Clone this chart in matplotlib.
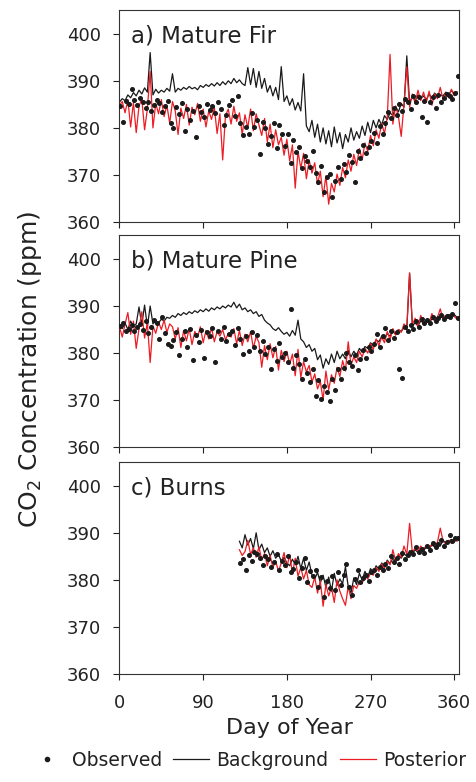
import numpy as np
import matplotlib
matplotlib.use("Agg")
import matplotlib.pyplot as plt
from matplotlib.lines import Line2D

plt.rcParams['font.family'] = ['DejaVu Sans']
plt.rcParams['mathtext.default'] = 'regular'

# dias (cada 3 dias) para las lineas y los puntos observados
dias = list(range(0, 364, 3))
dias_obs = list(range(1, 365, 3))
dias_c = list(range(129, 364, 3))
dias_c_obs = list(range(130, 365, 3))

# a) Mature Fir
fir_fondo = [
    385.5, 386.2, 385.8, 387.0, 386.4, 387.5, 386.8, 388.0, 387.2, 388.5,
    387.6, 396.0, 387.0, 388.2, 387.4, 388.0, 387.6, 388.4, 387.8, 391.5,
    387.6, 388.4, 388.0, 388.6, 388.2, 388.8, 388.3, 388.6, 388.1, 389.0,
    388.6, 389.2, 388.8, 389.4, 388.9, 389.6, 389.0, 389.8, 389.2, 390.0,
    389.4, 390.5, 389.6, 390.2, 389.4, 389.0, 392.8, 389.2, 392.6, 388.6,
    392.0, 388.4, 390.5, 387.6, 389.0, 386.8, 388.6, 386.0, 393.0, 385.6,
    386.8, 384.8, 386.2, 383.8, 385.4, 383.6, 391.5, 380.4, 379.2, 381.6,
    378.0, 380.8, 377.0, 380.0, 376.6, 379.4, 376.0, 380.2, 376.8, 379.0,
    375.6, 378.6, 377.0, 380.0, 377.4, 379.2, 377.8, 380.4, 378.4, 381.2,
    379.0, 381.6, 380.0, 381.8, 380.6, 382.6, 381.8, 383.2, 382.6, 384.6,
    383.4, 385.2, 384.4, 395.3, 385.4, 386.6, 385.8, 387.0, 386.2, 386.8,
    386.0, 387.2, 386.4, 387.4, 386.6, 387.0, 386.8, 387.6, 387.0, 388.0,
    387.2, 387.6]
fir_post = [
    384.8, 385.6, 383.2, 386.0, 380.2, 385.4, 379.0, 384.6, 386.2, 379.6,
    384.0, 392.0, 380.0, 385.2, 383.0, 386.0, 382.4, 384.8, 381.0, 385.6,
    383.6, 378.6, 384.2, 382.0, 385.0, 380.6, 384.4, 382.8, 385.2, 381.4,
    384.0, 380.2, 383.6, 381.8, 384.4, 378.8, 383.0, 373.2, 382.6, 384.0,
    380.8, 384.6, 381.4, 383.2, 378.6, 382.8, 380.0, 384.0, 379.4, 383.0,
    380.6, 378.4, 382.0, 377.0, 380.8, 375.8, 379.6, 376.4, 378.0, 374.2,
    377.6, 373.0, 376.4, 367.2, 375.0, 371.4, 374.6, 369.2, 373.2, 370.4,
    372.6, 368.0, 370.8, 365.4, 369.8, 363.8, 368.2, 366.4, 370.2, 367.8,
    371.6, 369.4, 373.2, 370.8, 374.4, 372.0, 375.6, 373.2, 376.8, 375.0,
    378.4, 376.2, 379.6, 377.8, 381.0, 378.8, 382.2, 395.6, 380.8, 384.6,
    382.4, 378.2, 385.0, 393.0, 384.4, 387.2, 385.2, 388.0, 385.8, 387.6,
    385.4, 387.8, 384.8, 387.2, 386.2, 388.6, 386.0, 387.4, 386.4, 388.2,
    386.8, 387.6]
fir_obs = [
    384.6, 381.2, 385.8, 385.0, 388.2, 386.0, 384.8, 386.4, 385.6, 384.2,
    385.4, 383.6, 384.8, 386.0, 385.2, 383.4, 384.6, 385.8, 381.0, 380.0,
    384.4, 383.0, 385.2, 379.4, 384.0, 381.6, 383.6, 378.0, 384.6, 383.4,
    382.4, 385.0, 383.8, 384.6, 383.2, 385.6, 384.0, 380.6, 382.8, 384.8,
    386.0, 382.6, 386.8, 381.0, 378.4, 380.2, 378.6, 383.2, 380.2, 381.6,
    374.4, 381.2, 380.0, 376.6, 378.2, 381.0, 375.8, 380.6, 378.8, 376.2,
    378.6, 372.6, 377.4, 374.8, 376.0, 371.4, 374.0, 373.0, 371.8, 375.2,
    370.4, 368.6, 372.0, 366.4, 369.6, 370.2, 365.4, 368.8, 371.6, 369.2,
    372.4, 370.6, 374.2, 372.8, 368.6, 375.0, 373.6, 376.4, 374.6, 376.0,
    377.2, 379.0, 376.8, 380.4, 378.6, 381.0, 383.4, 382.0, 384.2, 382.8,
    385.0, 383.6, 386.2, 385.4, 384.0, 386.8, 385.6, 386.6, 382.4, 385.8,
    381.2, 385.4, 386.6, 384.2, 387.0, 385.6, 386.4, 387.2, 386.8, 386.2,
    387.4, 391.0]

# b) Mature Pine
pine_fondo = [
    386.0, 385.2, 386.4, 385.0, 386.8, 385.6, 386.2, 389.8, 386.0, 390.2,
    385.6, 390.0, 386.2, 386.8, 386.4, 387.2, 386.8, 387.6, 387.4, 388.0,
    387.6, 388.4, 388.0, 388.6, 388.2, 388.8, 388.4, 389.0, 388.6, 389.2,
    388.8, 389.4, 388.9, 389.6, 389.2, 389.8, 389.4, 390.0, 389.6, 390.2,
    389.8, 390.8, 389.6, 390.4, 389.2, 389.6, 388.8, 389.2, 388.4, 388.8,
    387.8, 388.2, 387.0, 386.4, 386.0, 385.2, 384.8, 385.4, 384.6, 384.0,
    384.4, 383.6, 384.8, 383.8, 387.0, 383.0, 382.4, 381.2, 381.8, 380.4,
    381.0, 378.6, 379.6, 376.8, 378.8, 377.6, 379.8, 378.0, 380.4, 378.8,
    379.8, 378.8, 380.6, 379.2, 380.4, 379.6, 381.0, 380.2, 381.4, 381.0,
    382.2, 381.6, 382.8, 382.4, 383.6, 383.0, 384.2, 383.6, 384.6, 384.0,
    385.0, 384.6, 385.4, 385.0, 397.0, 385.8, 386.4, 385.8, 386.8, 386.4,
    386.8, 386.6, 387.2, 387.0, 387.6, 387.4, 388.0, 387.6, 388.2, 388.0,
    388.2, 387.6]
pine_post = [
    385.6, 383.4, 386.2, 388.6, 384.0, 386.8, 381.0, 385.2, 388.8, 383.2,
    386.4, 378.0, 385.8, 384.2, 386.6, 385.0, 387.0, 384.4, 386.2, 385.6,
    383.0, 385.4, 381.2, 384.8, 382.6, 385.2, 381.8, 384.6, 383.4, 385.6,
    382.2, 384.8, 383.0, 385.4, 382.4, 384.6, 383.6, 385.0, 382.8, 384.2,
    383.4, 385.2, 382.0, 384.8, 381.6, 384.0, 382.4, 384.6, 381.0, 383.6,
    382.2, 377.0, 381.6, 378.6, 382.0, 379.0, 381.4, 376.4, 380.6, 378.2,
    380.4, 377.6, 379.8, 375.2, 380.8, 374.8, 378.2, 376.0, 377.4, 373.8,
    375.6, 372.4, 374.0, 370.0, 376.2, 372.2, 375.4, 373.6, 377.0, 375.0,
    378.4, 376.2, 382.4, 377.4, 379.2, 378.0, 380.4, 379.2, 381.0, 380.0,
    382.0, 380.8, 383.0, 381.6, 383.4, 382.2, 384.6, 382.8, 385.2, 383.8,
    385.0, 384.4, 386.2, 385.4, 397.0, 386.0, 387.4, 385.6, 388.0, 386.2,
    387.0, 386.4, 388.4, 386.8, 387.6, 389.4, 387.2, 388.0, 387.4, 388.4,
    387.8, 387.2]
pine_obs = [
    385.8, 386.4, 384.6, 385.2, 386.0, 384.8, 385.6, 386.2, 385.0, 386.8,
    384.2, 385.6, 387.0, 386.4, 383.0, 387.6, 384.2, 382.0, 381.6, 382.8,
    384.4, 379.6, 383.0, 384.6, 381.4, 385.2, 378.6, 383.8, 382.4, 385.0,
    379.0, 384.4, 383.6, 385.4, 378.2, 384.8, 383.0, 385.6, 382.6, 384.0,
    384.8, 381.8, 385.4, 383.0, 379.8, 383.6, 380.4, 384.4, 381.2, 383.8,
    380.4, 382.6, 379.8, 381.4, 376.6, 380.8, 378.4, 382.2, 379.2, 380.0,
    378.2, 389.4, 376.8, 379.6, 377.6, 374.6, 378.8, 375.8, 373.8, 376.6,
    371.0, 374.2, 370.2, 373.0, 371.8, 369.8, 374.4, 372.2, 376.6, 374.6,
    376.8, 380.0, 378.2, 377.2, 379.6, 376.4, 378.8, 380.6, 379.0, 381.2,
    380.4, 382.0, 384.0, 381.4, 383.6, 385.4, 382.8, 384.8, 383.2, 384.4,
    376.6, 374.8, 385.6, 384.8, 386.0, 385.2, 386.8, 385.6, 387.2, 386.4,
    387.0, 386.4, 387.6, 386.8, 387.4, 388.0, 387.2, 387.8, 387.6, 388.2,
    390.6, 387.4]

# c) Burns (desde el dia 129)
burns_fondo = [
    388.2, 386.8, 389.6, 387.4, 388.8, 386.6, 390.0, 386.4, 387.6, 385.8,
    386.8, 385.0, 386.2, 384.6, 385.4, 384.0, 384.8, 383.6, 383.0, 384.4,
    383.2, 385.0, 382.4, 384.6, 382.0, 383.8, 381.0, 380.2, 381.6, 379.4,
    381.0, 378.4, 380.6, 377.6, 381.4, 378.8, 380.2, 379.2, 382.8, 378.6,
    377.2, 380.4, 379.0, 381.4, 380.0, 381.8, 380.6, 382.4, 381.6, 383.0,
    382.2, 383.6, 382.8, 384.2, 383.4, 384.6, 384.0, 385.2, 384.6, 385.6,
    385.0, 386.2, 385.6, 386.4, 385.8, 386.8, 386.2, 387.0, 386.6, 387.4,
    387.0, 387.6, 387.2, 388.4, 387.8, 388.2, 388.6, 388.0, 388.8]
burns_post = [
    386.4, 385.2, 386.0, 388.4, 385.4, 386.8, 384.8, 387.0, 384.2, 385.6,
    383.0, 385.2, 382.6, 384.0, 381.8, 383.6, 385.8, 382.6, 385.4, 381.4,
    384.6, 380.8, 382.6, 380.2, 382.0, 379.0, 378.4, 380.6, 377.2, 379.8,
    374.4, 379.0, 376.6, 378.4, 375.2, 380.0, 377.6, 376.0, 374.6, 378.6,
    376.0, 378.8, 378.2, 379.6, 379.2, 380.8, 380.2, 381.4, 381.0, 382.6,
    381.8, 383.4, 382.4, 384.0, 383.2, 386.4, 384.0, 385.6, 384.8, 387.2,
    385.4, 392.0, 385.8, 386.8, 386.0, 387.2, 386.4, 387.4, 386.8, 387.6,
    387.2, 388.0, 391.0, 388.2, 387.6, 388.4, 387.8, 388.6, 388.2]
burns_obs = [
    383.6, 384.4, 382.0, 385.2, 384.0, 386.0, 385.4, 384.6, 383.2, 385.0,
    384.4, 382.8, 383.8, 385.6, 382.2, 384.0, 383.2, 385.0, 381.6, 382.4,
    383.8, 380.4, 382.6, 384.6, 379.6, 381.8, 380.8, 382.2, 378.4, 380.6,
    376.4, 379.8, 378.2, 380.8, 377.8, 381.6, 379.0, 381.0, 383.4, 378.4,
    376.8, 380.2, 382.2, 379.6, 380.4, 381.0, 379.8, 381.6, 382.2, 381.0,
    382.8, 382.0, 383.4, 382.6, 385.0, 383.8, 384.6, 383.4, 385.8, 384.4,
    385.2, 386.0, 385.6, 387.0, 386.0, 386.6, 385.8, 387.2, 386.4, 387.8,
    387.0, 387.6, 388.4, 387.2, 388.0, 389.6, 388.2, 388.8, 389.0]

paneles = [
    ("a) Mature Fir", dias, fir_fondo, fir_post, dias_obs, fir_obs),
    ("b) Mature Pine", dias, pine_fondo, pine_post, dias_obs, pine_obs),
    ("c) Burns", dias_c, burns_fondo, burns_post, dias_c_obs, burns_obs),
]

rojo = "#ec1c24"
negro = "#1a1a1a"

fig = plt.figure(figsize=(4.76, 7.82), dpi=100)
izq, ancho, alto = 0.251, 0.713, 0.271
bases = [0.716, 0.428, 0.138]

for i, (titulo, x, fondo, post, xo, obs) in enumerate(paneles):
    ax = fig.add_axes([izq, bases[i], ancho, alto])
    ax.plot(x, fondo, color=negro, linewidth=0.9, zorder=2)
    ax.plot(x, post, color=rojo, linewidth=0.9, zorder=3)
    ax.plot(xo, obs, linestyle="none", marker="o", markersize=2.6,
            color=negro, zorder=4)
    ax.set_xlim(0, 365)
    ax.set_ylim(360, 405)
    ax.set_yticks([360, 370, 380, 390, 400])
    ax.set_xticks([0, 90, 180, 270, 360])
    ax.tick_params(direction="out", length=4.5, width=0.8, colors="#222222",
                   labelsize=13)
    ax.tick_params(axis="y", pad=9)
    ax.tick_params(axis="x", pad=10)
    if i < 2:
        ax.tick_params(axis="x", labelbottom=False)
    for s in ax.spines.values():
        s.set_linewidth(0.8)
        s.set_color("#333333")
    ax.text(0.035, 0.88, titulo, transform=ax.transAxes, fontsize=16.5,
            color="#222222", va="center", ha="left")
    if i == 2:
        ax.set_xlabel("Day of Year", fontsize=16, color="#222222", labelpad=4)

fig.text(0.063, 0.528, "CO$_2$ Concentration (ppm)", rotation=90,
         fontsize=18, color="#222222", ha="center", va="center")

handles = [
    Line2D([], [], linestyle="none", marker="o", markersize=3, color=negro),
    Line2D([], [], color=negro, linewidth=0.9),
    Line2D([], [], color=rojo, linewidth=0.9),
]
fig.legend(handles, ["Observed", "Background", "Posterior"], loc="center",
           bbox_to_anchor=(0.52, 0.028), ncol=3, frameon=False,
           fontsize=13.5, handlelength=1.9, handletextpad=0.4,
           columnspacing=0.6, labelcolor="#222222")

fig.savefig("out.png", dpi=100)
